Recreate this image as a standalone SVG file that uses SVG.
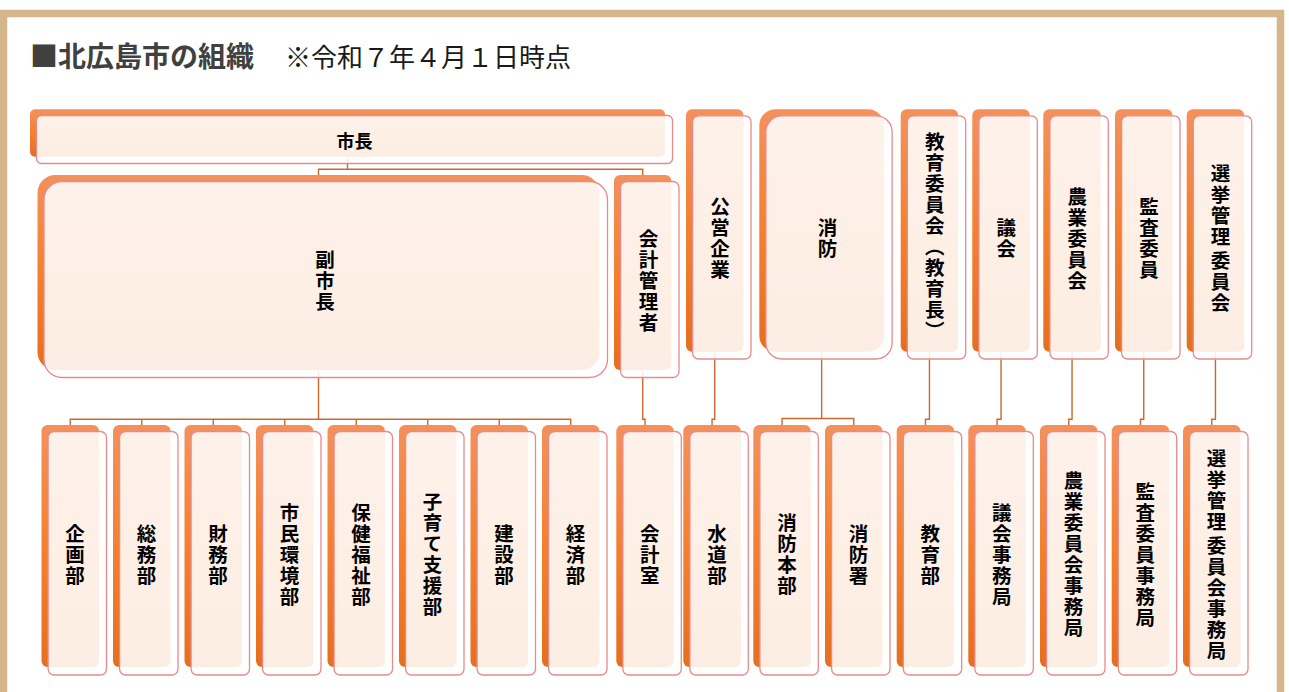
<svg xmlns="http://www.w3.org/2000/svg" width="1289" height="692" viewBox="0 0 1289 692">
<defs>
<linearGradient id="og" x1="0" y1="0" x2="0" y2="1">
<stop offset="0" stop-color="#f3915c"/>
<stop offset="0.5" stop-color="#f4802f"/>
<stop offset="1" stop-color="#e66f1f"/>
</linearGradient>
<style>
.bk{fill:url(#og)}
.fr{fill:#fff;fill-opacity:0.88;stroke:#e98a8a;stroke-width:1.3}
.cn{fill:none;stroke:#c96a2c;stroke-width:1.4}
.v{font-family:"Noto Sans CJK JP","Noto Sans CJK SC",sans-serif;font-size:19.5px;font-weight:bold;fill:#000;writing-mode:vertical-rl;text-anchor:middle;letter-spacing:1.5px}
.h{font-family:"Noto Sans CJK JP","Noto Sans CJK SC",sans-serif;font-size:18px;font-weight:bold;fill:#000;text-anchor:middle;dominant-baseline:central}
.t1{font-family:"Noto Sans CJK JP","Noto Sans CJK SC",sans-serif;font-size:28px;font-weight:bold;fill:#404040}
.t2{font-family:"Noto Sans CJK JP","Noto Sans CJK SC",sans-serif;font-size:26px;fill:#1a1a1a}
</style>
</defs>
<rect width="1289" height="692" fill="#fff"/>
<rect x="3.5" y="13.5" width="1277" height="700" fill="#fff" stroke="#d5b68c" stroke-width="7.5"/>
<g id="title">
<text class="t1" x="30" y="67">■北広島市の組織</text>
<text class="t2" x="285" y="67">※令和７年４月１日時点</text>
</g>
<g id="connectors">
<path class="cn" d="M347.5,157V169.3 M318.5,175V169.3H642.75V175"/>
<path class="cn" d="M318.5,370V419.3 M70.25,425V419.3H570.75V425 M141.75,419.3V425 M213.25,419.3V425 M284.75,419.3V425 M356.25,419.3V425 M427.75,419.3V425 M499.25,419.3V425"/>
<path class="cn" d="M642.75,370V419.3H645.05V425"/>
<path class="cn" d="M714.75,351.7V419.3H712.05V425"/>
<path class="cn" d="M821.65,351.7V418.5 M782.05,425V418.5H853.75V425"/>
<path class="cn" d="M929.45,351.7V419.3H925.45V425"/>
<path class="cn" d="M1001.05,351.7V419.3H997.05V425"/>
<path class="cn" d="M1072.05,351.7V419.3H1068.75V425"/>
<path class="cn" d="M1143.75,351.7V419.3H1140.45V425"/>
<path class="cn" d="M1215.45,351.7V419.3H1211.75V425"/>
</g>
<g id="n-shicho"><rect class="bk" x="30" y="109.3" width="635" height="47.4" rx="5"/><rect class="fr" x="36.5" y="115.5" width="636" height="48" rx="5"/><text class="h" x="354.5" y="139.5">市長</text></g>
<g id="n-fukushicho"><rect class="bk" x="37.5" y="175" width="562" height="195" rx="18"/><rect class="fr" x="44" y="181.5" width="563.5" height="196" rx="18"/><text class="v" x="325" y="281">副市長</text></g>
<g id="n-kaikeikanrisha"><rect class="bk" x="614" y="175" width="57.5" height="195" rx="6"/><rect class="fr" x="620.6" y="181.5" width="58.4" height="196" rx="6"/><text class="v" x="648.5" y="281">会計管理者</text></g>
<g id="n-koei"><rect class="bk" x="686" y="109.3" width="57.5" height="242.4" rx="6"/><rect class="fr" x="692.6" y="115.8" width="58.4" height="243.2" rx="6"/><text class="v" x="720" y="239">公営企業</text></g>
<g id="n-shobo"><rect class="bk" x="759.3" y="109.3" width="124.7" height="242.4" rx="16"/><rect class="fr" x="765.9" y="115.8" width="126.2" height="243.2" rx="16"/><text class="v" x="827.5" y="239">消防</text></g>
<g id="n-kyoiku"><rect class="bk" x="900.7" y="109.3" width="57.5" height="242.4" rx="6"/><rect class="fr" x="907.3" y="115.8" width="58.4" height="243.2" rx="6"/><text class="v" x="934.7" y="237">教育委員会（教育長）</text></g>
<g id="n-gikai"><rect class="bk" x="972.3" y="109.3" width="57.5" height="242.4" rx="6"/><rect class="fr" x="978.9" y="115.8" width="58.4" height="243.2" rx="6"/><text class="v" x="1006.3" y="239">議会</text></g>
<g id="n-nogyo"><rect class="bk" x="1043.3" y="109.3" width="57.5" height="242.4" rx="6"/><rect class="fr" x="1049.9" y="115.8" width="58.4" height="243.2" rx="6"/><text class="v" x="1077.3" y="239">農業委員会</text></g>
<g id="n-kansa"><rect class="bk" x="1115" y="109.3" width="57.5" height="242.4" rx="6"/><rect class="fr" x="1121.6" y="115.8" width="58.4" height="243.2" rx="6"/><text class="v" x="1149" y="239">監査委員</text></g>
<g id="n-senkyo"><rect class="bk" x="1186.7" y="109.3" width="57.5" height="242.4" rx="6"/><rect class="fr" x="1193.3" y="115.8" width="58.4" height="243.2" rx="6"/><text class="v" x="1220.5" y="239">選挙管理<tspan dy="3">委員会</tspan></text></g>
<g id="n-kikaku"><rect class="bk" x="41.5" y="425" width="57.5" height="242" rx="6"/><rect class="fr" x="48.1" y="431.5" width="58.4" height="243.5" rx="6"/><text class="v" x="75" y="555">企画部</text></g>
<g id="n-somu"><rect class="bk" x="113" y="425" width="57.5" height="242" rx="6"/><rect class="fr" x="119.6" y="431.5" width="58.4" height="243.5" rx="6"/><text class="v" x="146.5" y="555">総務部</text></g>
<g id="n-zaimu"><rect class="bk" x="184.5" y="425" width="57.5" height="242" rx="6"/><rect class="fr" x="191.1" y="431.5" width="58.4" height="243.5" rx="6"/><text class="v" x="218" y="555">財務部</text></g>
<g id="n-shimin"><rect class="bk" x="256" y="425" width="57.5" height="242" rx="6"/><rect class="fr" x="262.6" y="431.5" width="58.4" height="243.5" rx="6"/><text class="v" x="289.5" y="555">市民環境部</text></g>
<g id="n-hoken"><rect class="bk" x="327.5" y="425" width="57.5" height="242" rx="6"/><rect class="fr" x="334.1" y="431.5" width="58.4" height="243.5" rx="6"/><text class="v" x="361" y="555">保健福祉部</text></g>
<g id="n-kosodate"><rect class="bk" x="399" y="425" width="57.5" height="242" rx="6"/><rect class="fr" x="405.6" y="431.5" width="58.4" height="243.5" rx="6"/><text class="v" x="432.5" y="555">子育て支援部</text></g>
<g id="n-kensetsu"><rect class="bk" x="470.5" y="425" width="57.5" height="242" rx="6"/><rect class="fr" x="477.1" y="431.5" width="58.4" height="243.5" rx="6"/><text class="v" x="504" y="555">建設部</text></g>
<g id="n-keizai"><rect class="bk" x="542" y="425" width="57.5" height="242" rx="6"/><rect class="fr" x="548.6" y="431.5" width="58.4" height="243.5" rx="6"/><text class="v" x="575.5" y="555">経済部</text></g>
<g id="n-kaikeishitsu"><rect class="bk" x="616.3" y="425" width="57.5" height="242" rx="6"/><rect class="fr" x="622.9" y="431.5" width="58.4" height="243.5" rx="6"/><text class="v" x="649.8" y="555">会計室</text></g>
<g id="n-suido"><rect class="bk" x="683.3" y="425" width="57.5" height="242" rx="6"/><rect class="fr" x="689.9" y="431.5" width="58.4" height="243.5" rx="6"/><text class="v" x="717" y="555">水道部</text></g>
<g id="n-shobohonbu"><rect class="bk" x="753.3" y="425" width="57.5" height="242" rx="6"/><rect class="fr" x="759.9" y="431.5" width="58.4" height="243.5" rx="6"/><text class="v" x="787" y="555">消防本部</text></g>
<g id="n-shobosho"><rect class="bk" x="825" y="425" width="57.5" height="242" rx="6"/><rect class="fr" x="831.6" y="431.5" width="58.4" height="243.5" rx="6"/><text class="v" x="858.5" y="555">消防署</text></g>
<g id="n-kyoikubu"><rect class="bk" x="896.7" y="425" width="57.5" height="242" rx="6"/><rect class="fr" x="903.3" y="431.5" width="58.4" height="243.5" rx="6"/><text class="v" x="930.2" y="555">教育部</text></g>
<g id="n-gikaijimu"><rect class="bk" x="968.3" y="425" width="57.5" height="242" rx="6"/><rect class="fr" x="974.9" y="431.5" width="58.4" height="243.5" rx="6"/><text class="v" x="1001.8" y="555">議会事務局</text></g>
<g id="n-nogyojimu"><rect class="bk" x="1040" y="425" width="57.5" height="242" rx="6"/><rect class="fr" x="1046.6" y="431.5" width="58.4" height="243.5" rx="6"/><text class="v" x="1073.5" y="555">農業委員会事務局</text></g>
<g id="n-kansajimu"><rect class="bk" x="1111.7" y="425" width="57.5" height="242" rx="6"/><rect class="fr" x="1118.3" y="431.5" width="58.4" height="243.5" rx="6"/><text class="v" x="1145.2" y="555">監査委員事務局</text></g>
<g id="n-senkyojimu"><rect class="bk" x="1183" y="425" width="57.5" height="242" rx="6"/><rect class="fr" x="1189.6" y="431.5" width="58.4" height="243.5" rx="6"/><text class="v" x="1216.5" y="555">選挙管理<tspan dy="3">委員会事務局</tspan></text></g>
</svg>
